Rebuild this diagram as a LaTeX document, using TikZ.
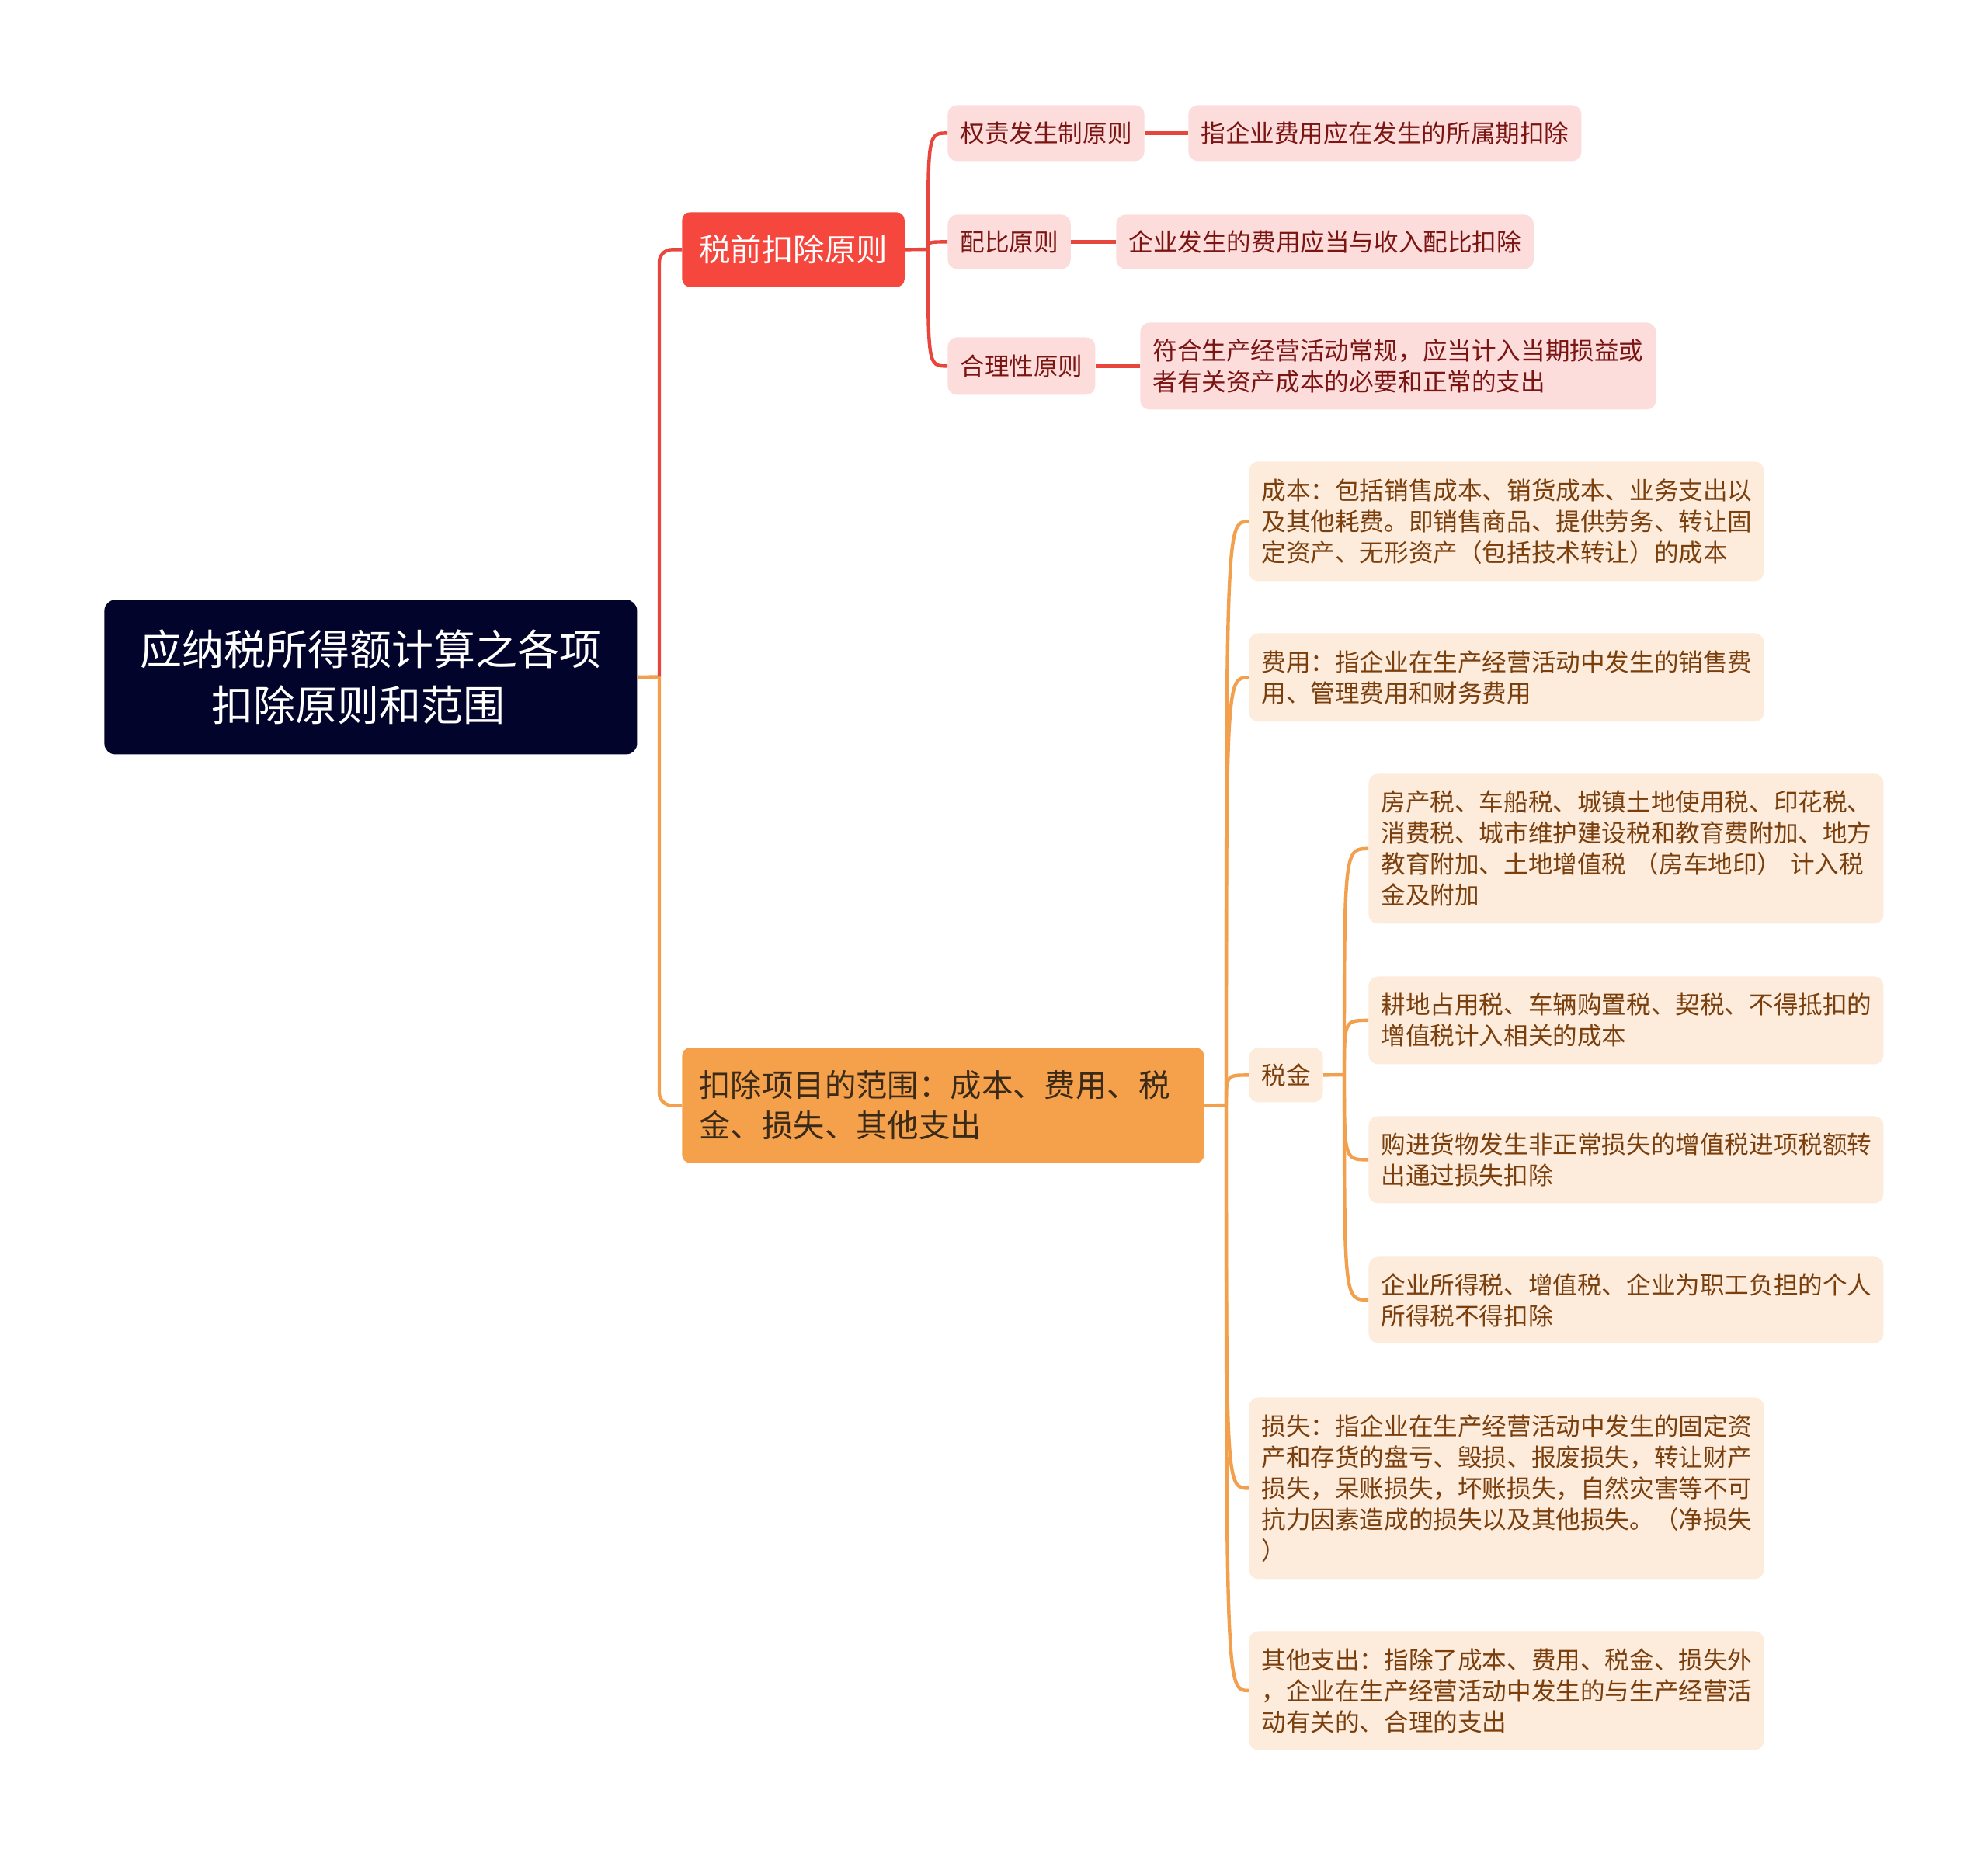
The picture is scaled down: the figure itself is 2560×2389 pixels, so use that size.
\documentclass[tikz,border=0pt]{standalone}
\usepackage{fontspec}
\setmainfont{Noto Sans CJK SC}
\usepackage{xcolor}

\definecolor{rootblue}{HTML}{03042B}
\definecolor{hubred}{HTML}{F5473D}
\definecolor{linered}{HTML}{E8463C}
\definecolor{leafred}{HTML}{FDDCDC}
\definecolor{leafredtext}{HTML}{7B1512}
\definecolor{huborange}{HTML}{F5A14C}
\definecolor{lineorange}{HTML}{F2A04D}
\definecolor{leaforange}{HTML}{FDEBDB}
\definecolor{leaforangetext}{HTML}{7A3F0D}
\definecolor{hubtext}{HTML}{3B2A17}

\tikzset{
  box/.style={anchor=north west, inner ysep=0pt},
  rootbox/.style={box, fill=rootblue, text=white, rounded corners=7pt,
    font=\fontsize{27}{36}\selectfont, align=center,
    minimum width=343pt, minimum height=99.5pt},
  hubredbox/.style={box, fill=hubred, text=white, rounded corners=5pt,
    font=\fontsize{20.2}{26}\selectfont, inner xsep=11pt,
    minimum width=142.5pt, minimum height=48pt},
  huborangebox/.style={box, fill=huborange, text=hubtext, rounded corners=5pt,
    font=\fontsize{20.2}{26}\selectfont, inner xsep=11pt, align=left,
    text width=314pt, minimum height=74pt},
  leafredbox/.style={box, fill=leafred, text=leafredtext, rounded corners=6pt,
    font=\fontsize{15.8}{20}\selectfont, inner xsep=8pt, align=left},
  leaforangebox/.style={box, fill=leaforange, text=leaforangetext, rounded corners=6pt,
    font=\fontsize{15.8}{20}\selectfont, inner xsep=8pt, align=left},
  wideleaf/.style={leaforangebox, text width=315.5pt},
  redline/.style={draw=linered, line width=2.2pt},
  orangeline/.style={draw=lineorange, line width=2.2pt},
}

\begin{document}
\begin{tikzpicture}[x=0.5pt, y=-0.5pt]
    \useasboundingbox (0,0) rectangle (2560,2389);

    % root and the two main branches
    \node[rootbox] (root) at (134,772) {应纳税所得额计算之各项\\扣除原则和范围\hspace*{16pt}};
    \node[hubredbox] (rule) at (878,273) {税前扣除原则};
    \node[huborangebox] (scope) at (878,1349) {扣除项目的范围：成本、费用、税\\金、损失、其他支出};

    % principles
    \node[leafredbox, minimum height=36pt] (accrual) at (1220,135) {权责发生制原则};
    \node[leafredbox, minimum height=36pt] (accrualtext) at (1530,135) {指企业费用应在发生的所属期扣除};
    \node[leafredbox, minimum height=35pt] (match) at (1220,276) {配比原则};
    \node[leafredbox, minimum height=35pt] (matchtext) at (1437,276) {企业发生的费用应当与收入配比扣除};
    \node[leafredbox, minimum height=37pt] (reason) at (1220,434) {合理性原则};
    \node[leafredbox, minimum height=56pt] (reasontext) at (1468,415) {符合生产经营活动常规，应当计入当期损益或\\者有关资产成本的必要和正常的支出};

    % scope items
    \node[wideleaf, minimum height=77pt] (cost) at (1608,594) {成本：包括销售成本、销货成本、业务支出以\\及其他耗费。即销售商品、提供劳务、转让固\\定资产、无形资产（包括技术转让）的成本};
    \node[wideleaf, minimum height=57pt] (fee) at (1608,815) {费用：指企业在生产经营活动中发生的销售费\\用、管理费用和财务费用};
    \node[leaforangebox, minimum height=35pt] (tax) at (1608,1349) {税金};
    \node[wideleaf, minimum height=117pt] (loss) at (1608,1799) {损失：指企业在生产经营活动中发生的固定资\\产和存货的盘亏、毁损、报废损失，转让财产\\损失，呆账损失，坏账损失，自然灾害等不可\\抗力因素造成的损失以及其他损失。（净损失\\）};
    \node[wideleaf, minimum height=76.5pt] (other) at (1608,2100) {其他支出：指除了成本、费用、税金、损失外\\，企业在生产经营活动中发生的与生产经营活\\动有关的、合理的支出};

    % taxes
    \node[wideleaf, minimum height=96.5pt] (taxa) at (1762,996) {房产税、车船税、城镇土地使用税、印花税、\\消费税、城市维护建设税和教育费附加、地方\\教育附加、土地增值税 （房车地印） 计入税\\金及附加};
    \node[wideleaf, minimum height=56.5pt] (taxb) at (1762,1257) {耕地占用税、车辆购置税、契税、不得抵扣的\\增值税计入相关的成本};
    \node[wideleaf, minimum height=56pt] (taxc) at (1762,1437) {购进货物发生非正常损失的增值税进项税额转\\出通过损失扣除};
    \node[wideleaf, minimum height=55.5pt] (taxd) at (1762,1618) {企业所得税、增值税、企业为职工负担的个人\\所得税不得扣除};

    % trunk
    \coordinate (trunk) at (849,871.5);
    \draw[orangeline] (root.east) -- (trunk);
    \draw[redline, rounded corners=8pt] (trunk) |- (rule.west);
    \draw[orangeline, rounded corners=8pt] (trunk) |- (scope.west);

    % red branch
    \coordinate (rj) at (1195,321);
    \draw[redline] (rule.east) -- (rj);
    \draw[redline] (rj) .. controls (rj |- accrual.west) .. (accrual.west);
    \draw[redline] (rj) .. controls (rj |- match.west) .. (match.west);
    \draw[redline] (rj) .. controls (rj |- reason.west) .. (reason.west);
    \draw[redline] (accrual) -- (accrualtext);
    \draw[redline] (match) -- (matchtext);
    \draw[redline] (reason) -- (reasontext);

    % orange branch
    \coordinate (oj) at (1579,1423);
    \draw[orangeline] (scope.east) -- (oj);
    \draw[orangeline] (oj) .. controls (oj |- cost.west) .. (cost.west);
    \draw[orangeline] (oj) .. controls (oj |- fee.west) .. (fee.west);
    \draw[orangeline] (oj) .. controls (oj |- tax.west) .. (tax.west);
    \draw[orangeline] (oj) .. controls (oj |- loss.west) .. (loss.west);
    \draw[orangeline] (oj) .. controls (oj |- other.west) .. (other.west);

    % tax branch
    \coordinate (tj) at (1731,1384);
    \draw[orangeline] (tax.east) -- (tj);
    \draw[orangeline] (tj) .. controls (tj |- taxa.west) .. (taxa.west);
    \draw[orangeline] (tj) .. controls (tj |- taxb.west) .. (taxb.west);
    \draw[orangeline] (tj) .. controls (tj |- taxc.west) .. (taxc.west);
    \draw[orangeline] (tj) .. controls (tj |- taxd.west) .. (taxd.west);
\end{tikzpicture}
\end{document}
